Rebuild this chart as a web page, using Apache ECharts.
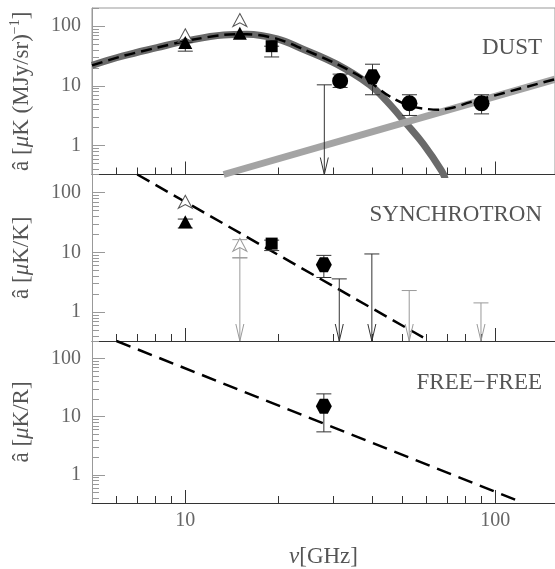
<!DOCTYPE html>
<html>
<head>
<meta charset="utf-8">
<script src="https://cdn.jsdelivr.net/npm/echarts@6.0.0/dist/echarts.min.js"></script>
<style>
html, body { margin: 0; padding: 0; background: #fff; }
#chart { width: 555px; height: 569px; }
</style>
</head>
<body>
<div id="chart"></div>
<script>
// axes: frequency in GHz and amplitude, both logarithmic
var freqMin = 5, freqMax = 156;
var ampMin = 0.33, ampMax = 200;
var freqMajor = [10, 100];
var freqLabels = ['10', '100'];
var freqMinor = [6, 7, 8, 9, 20, 30, 40, 50, 60, 70, 80, 90];
var ampMajor = [1, 10, 100];
var ampLabels = ['1', '10', '100'];
var ampMinor = [0.4, 0.5, 0.6, 0.7, 0.8, 0.9, 2, 3, 4, 5, 6, 7, 8, 9, 20, 30, 40, 50, 60, 70, 80, 90, 200];
var panelNames = ['DUST', 'SYNCHROTRON', 'FREE\u2212FREE'];

// DUST panel
var dustCurveFreq = [5, 6.3, 8.1, 10, 13.3, 15.8, 19.8, 24, 30.8, 39.4, 44.6, 51.8, 58.6, 67.2, 69];
var dustCurveAmp = [22, 31.6, 43.5, 56, 71, 73, 61, 41, 23, 10.4, 5.6, 2.3, 1.07, 0.38, 0.28];
var dustPowFreq = [13.3, 156];
var dustPowAmp = [0.33, 12.9];
var dustSumFreq = [5, 6.3, 8.1, 10, 13.3, 15.8, 19.8, 24, 30.8, 36, 39.4, 45.4, 53.1, 60.3, 66.4, 74, 82.7, 156];
var dustSumAmp = [22, 31.6, 43.5, 56, 71, 73, 61, 41, 23.2, 15.2, 11.6, 6.8, 4.6, 4.1, 4.0, 4.4, 5.3, 12.9];
var dustOpenFreq = [10, 15];
var dustOpenAmp = [70, 126];
var dustTriFreq = [10, 15];
var dustTriAmp = [53, 76];
var dustSquareFreq = [19];
var dustSquareAmp = [46];
var dustCircleFreq = [31.6, 52.9, 90.4];
var dustCircleAmp = [12.1, 5.1, 5.1];
var dustHexFreq = [40.2];
var dustHexAmp = [14.2];
var dustErrFreq = [10, 19, 31.6, 40.2, 52.9, 90.4];
var dustErrLow = [38, 30.4, 9.4, 7.1, 3.2, 3.4];
var dustErrHigh = [53, 46, 15.7, 23, 7.1, 7.1];
var dustLimFreq = [28.1];
var dustLimAmp = [10.4];

// SYNCHROTRON panel
var syncLineFreq = [7.0, 59];
var syncLineAmp = [200, 0.37];
var syncOpenFreq = [10, 15];
var syncOpenAmp = [70, 13.4];
var syncTriFreq = [10];
var syncTriAmp = [32.5];
var syncSquareFreq = [19];
var syncSquareAmp = [14];
var syncHexFreq = [28];
var syncHexAmp = [6.2];
var syncErrFreq = [10, 15, 19, 28];
var syncErrLow = [25.5, 8.1, 10.7, 3.8];
var syncErrHigh = [36, 16.3, 16, 8.9];
var syncErrGrey = [false, true, false, false];
var syncLimFreq = [15, 31.4, 40, 52.8, 90];
var syncLimAmp = [8.1, 3.6, 9.4, 2.3, 1.43];
var syncLimGrey = [true, false, false, true, true];

// FREE-FREE panel
var ffLineFreq = [6.0, 121.6];
var ffLineAmp = [200, 0.34];
var ffHexFreq = [28];
var ffHexAmp = [15.2];
var ffErrFreq = [28];
var ffErrLow = [5.5];
var ffErrHigh = [24.7];

var serif = '"Liberation Serif", "DejaVu Serif", serif';
var dark = '#333', grey = '#9a9a9a';
var hexPath = 'path://M-10,0 L-5,-8.66 L5,-8.66 L10,0 L5,8.66 L-5,8.66 Z';
var openTriPath = 'path://M0,-10 L8,8 L0,3 L-8,8 Z';

function lg(v) { return Math.log10(v); }

function pts(freq, amp) {
	var out = [];
	for (var i = 0; i < freq.length; i++) {
		out.push([lg(freq[i]), lg(amp[i])]);
	}
	return out;
}

function bars(freq, low, high, greyFlags) {
	var out = [];
	for (var i = 0; i < freq.length; i++) {
		var item = {value: [lg(freq[i]), lg(low[i]), lg(high[i])]};
		if (greyFlags && greyFlags[i]) item.itemStyle = {color: grey};
		out.push(item);
	}
	return out;
}

function limits(freq, amp, greyFlags) {
	var out = [];
	for (var i = 0; i < freq.length; i++) {
		var item = {value: [lg(freq[i]), lg(amp[i])]};
		if (greyFlags && greyFlags[i]) item.itemStyle = {color: grey};
		out.push(item);
	}
	return out;
}

function tickLabel(values, labels) {
	return function (v) {
		for (var i = 0; i < values.length; i++) {
			if (Math.abs(lg(values[i]) - v) < 1e-6) return labels[i];
		}
		return '';
	};
}

function renderErr(params, api) {
	var f = api.value(0);
	var lo = api.coord([f, api.value(1)]);
	var hi = api.coord([f, api.value(2)]);
	var st = {stroke: api.visual('color'), lineWidth: 1, fill: null};
	var w = 7.5;
	return {type: 'group', children: [
		{type: 'line', shape: {x1: lo[0], y1: lo[1], x2: hi[0], y2: hi[1]}, style: st},
		{type: 'line', shape: {x1: lo[0] - w, y1: lo[1], x2: lo[0] + w, y2: lo[1]}, style: st},
		{type: 'line', shape: {x1: hi[0] - w, y1: hi[1], x2: hi[0] + w, y2: hi[1]}, style: st}
	]};
}

function renderLim(params, api) {
	var p = api.coord([api.value(0), api.value(1)]);
	var bottom = params.coordSys.y + params.coordSys.height;
	var x = p[0];
	var st = {stroke: api.visual('color'), lineWidth: 1, fill: null};
	return {type: 'group', children: [
		{type: 'line', shape: {x1: x, y1: p[1], x2: x, y2: bottom}, style: st},
		{type: 'line', shape: {x1: x - 7.5, y1: p[1], x2: x + 7.5, y2: p[1]}, style: st},
		{type: 'polyline', shape: {points: [[x - 4, bottom - 17], [x, bottom], [x + 4, bottom - 17]]}, style: st}
	]};
}

var panelTop = [8, 174.5, 341];
var panelHeight = 166.5;
var yNames = [
	'{t|\u00e2 [}{i|\u03bc}{t|K (MJy/sr)}{s|\u22121}{t|]}',
	'{t|\u00e2 [}{i|\u03bc}{t|K/K]}',
	'{t|\u00e2 [}{i|\u03bc}{t|K/R]}'
];
var nameRich = {
	t: {fontFamily: serif, fontSize: 23, color: '#555', lineHeight: 27},
	i: {fontFamily: serif, fontSize: 23, fontStyle: 'italic', color: '#555', lineHeight: 27},
	s: {fontFamily: serif, fontSize: 14, color: '#555', verticalAlign: 'top'}
};

var grids = [], xAxes = [], yAxes = [], series = [];
for (var p = 0; p < 3; p++) {
	grids.push({left: 92, top: panelTop[p], width: 466, height: panelHeight,
		show: p === 0, borderColor: '#999', borderWidth: 1});
	xAxes.push({
		gridIndex: p, type: 'value', position: 'bottom',
		min: lg(freqMin), max: lg(freqMax),
		axisLine: {show: true, onZero: false, lineStyle: {color: dark, width: 1}},
		axisTick: {show: true, inside: true, length: 13, customValues: freqMajor.map(lg), lineStyle: {color: dark}},
		axisLabel: {show: p === 2, customValues: freqMajor.map(lg), formatter: tickLabel(freqMajor, freqLabels),
			margin: 8, color: '#666', fontFamily: serif, fontSize: 20},
		splitLine: {show: false},
		name: p === 2 ? '{i|\u03bd}{t|[GHz]}' : '',
		nameLocation: 'middle', nameGap: 40,
		nameTextStyle: {rich: nameRich}
	});
	xAxes.push({
		gridIndex: p, type: 'value', position: 'bottom',
		min: lg(freqMin), max: lg(freqMax),
		axisLine: {show: false, onZero: false},
		axisTick: {show: true, inside: true, length: 7, customValues: freqMinor.map(lg), lineStyle: {color: dark}},
		axisLabel: {show: false},
		splitLine: {show: false}
	});
	yAxes.push({
		gridIndex: p, type: 'value', position: 'left',
		min: lg(ampMin), max: lg(ampMax),
		axisLine: {show: true, onZero: false, lineStyle: {color: '#999', width: 1}},
		axisTick: {show: true, inside: true, length: 13, customValues: ampMajor.map(lg), lineStyle: {color: '#999'}},
		axisLabel: {show: true, customValues: ampMajor.map(lg), formatter: tickLabel(ampMajor, ampLabels),
			margin: 11, color: '#666', fontFamily: serif, fontSize: 20},
		splitLine: {show: false},
		name: yNames[p], nameLocation: 'middle', nameRotate: 90, nameGap: 57,
		nameTextStyle: {rich: nameRich}
	});
	yAxes.push({
		gridIndex: p, type: 'value', position: 'left',
		min: lg(ampMin), max: lg(ampMax),
		axisLine: {show: false, onZero: false},
		axisTick: {show: true, inside: true, length: 7, customValues: ampMinor.map(lg), lineStyle: {color: '#999'}},
		axisLabel: {show: false},
		splitLine: {show: false}
	});
}

function lineSeries(p, data, color, width, type, smooth, z) {
	return {type: 'line', xAxisIndex: 2 * p, yAxisIndex: 2 * p, data: data, showSymbol: false,
		smooth: smooth, clip: true, z: z, silent: true,
		lineStyle: {color: color, width: width, type: type, cap: 'butt'}};
}

function scatterSeries(p, data, symbol, size, fill, border) {
	return {type: 'scatter', xAxisIndex: 2 * p, yAxisIndex: 2 * p, data: data, symbol: symbol,
		symbolSize: size, z: 5, silent: true,
		itemStyle: {color: fill, borderColor: border || fill, borderWidth: border ? 1 : 0, opacity: 1}};
}

function errSeries(p, data) {
	return {type: 'custom', xAxisIndex: 2 * p, yAxisIndex: 2 * p, data: data, renderItem: renderErr,
		itemStyle: {color: dark}, z: 4, silent: true};
}

function limSeries(p, data) {
	return {type: 'custom', xAxisIndex: 2 * p, yAxisIndex: 2 * p, data: data, renderItem: renderLim,
		itemStyle: {color: dark}, z: 4, silent: true};
}

// DUST
series.push(lineSeries(0, pts(dustCurveFreq, dustCurveAmp), '#6a6a6a', 7, 'solid', 0.4, 2));
series.push(lineSeries(0, pts(dustPowFreq, dustPowAmp), '#a4a4a4', 7, 'solid', false, 2));
series.push(lineSeries(0, pts(dustSumFreq, dustSumAmp), '#000', 2.5, [11, 6], 0.3, 3));
series.push(errSeries(0, bars(dustErrFreq, dustErrLow, dustErrHigh)));
series.push(limSeries(0, limits(dustLimFreq, dustLimAmp)));
series.push(scatterSeries(0, pts(dustOpenFreq, dustOpenAmp), openTriPath, [14, 13], '#fff', '#555'));
series.push(scatterSeries(0, pts(dustTriFreq, dustTriAmp), 'triangle', [14, 13], '#000'));
series.push(scatterSeries(0, pts(dustSquareFreq, dustSquareAmp), 'rect', 12, '#000'));
series.push(scatterSeries(0, pts(dustCircleFreq, dustCircleAmp), 'circle', 16, '#000'));
series.push(scatterSeries(0, pts(dustHexFreq, dustHexAmp), hexPath, [16, 15], '#000'));

// SYNCHROTRON
series.push(lineSeries(1, pts(syncLineFreq, syncLineAmp), '#000', 2.5, [14, 7], false, 3));
series.push(errSeries(1, bars(syncErrFreq, syncErrLow, syncErrHigh, syncErrGrey)));
series.push(limSeries(1, limits(syncLimFreq, syncLimAmp, syncLimGrey)));
series.push(scatterSeries(1, [pts(syncOpenFreq, syncOpenAmp)[0]], openTriPath, [14, 13], '#fff', '#555'));
series.push(scatterSeries(1, [pts(syncOpenFreq, syncOpenAmp)[1]], openTriPath, [14, 13], '#fff', grey));
series.push(scatterSeries(1, pts(syncTriFreq, syncTriAmp), 'triangle', [14, 13], '#000'));
series.push(scatterSeries(1, pts(syncSquareFreq, syncSquareAmp), 'rect', 12, '#000'));
series.push(scatterSeries(1, pts(syncHexFreq, syncHexAmp), hexPath, [16, 15], '#000'));

// FREE-FREE
series.push(lineSeries(2, pts(ffLineFreq, ffLineAmp), '#000', 2.5, [15, 8], false, 3));
series.push(errSeries(2, bars(ffErrFreq, ffErrLow, ffErrHigh)));
series.push(scatterSeries(2, pts(ffHexFreq, ffHexAmp), hexPath, [16, 15], '#000'));

var labelTop = [36, 203, 371];
var graphics = [];
for (var g = 0; g < panelNames.length; g++) {
	graphics.push({type: 'text', right: 13, top: labelTop[g], z: 10,
		style: {text: panelNames[g], font: '23px ' + serif, fill: '#555'}});
}

var chart = echarts.init(document.getElementById('chart'));
chart.setOption({
	animation: false,
	backgroundColor: '#fff',
	grid: grids,
	xAxis: xAxes,
	yAxis: yAxes,
	series: series,
	graphic: graphics
});
</script>
</body>
</html>
